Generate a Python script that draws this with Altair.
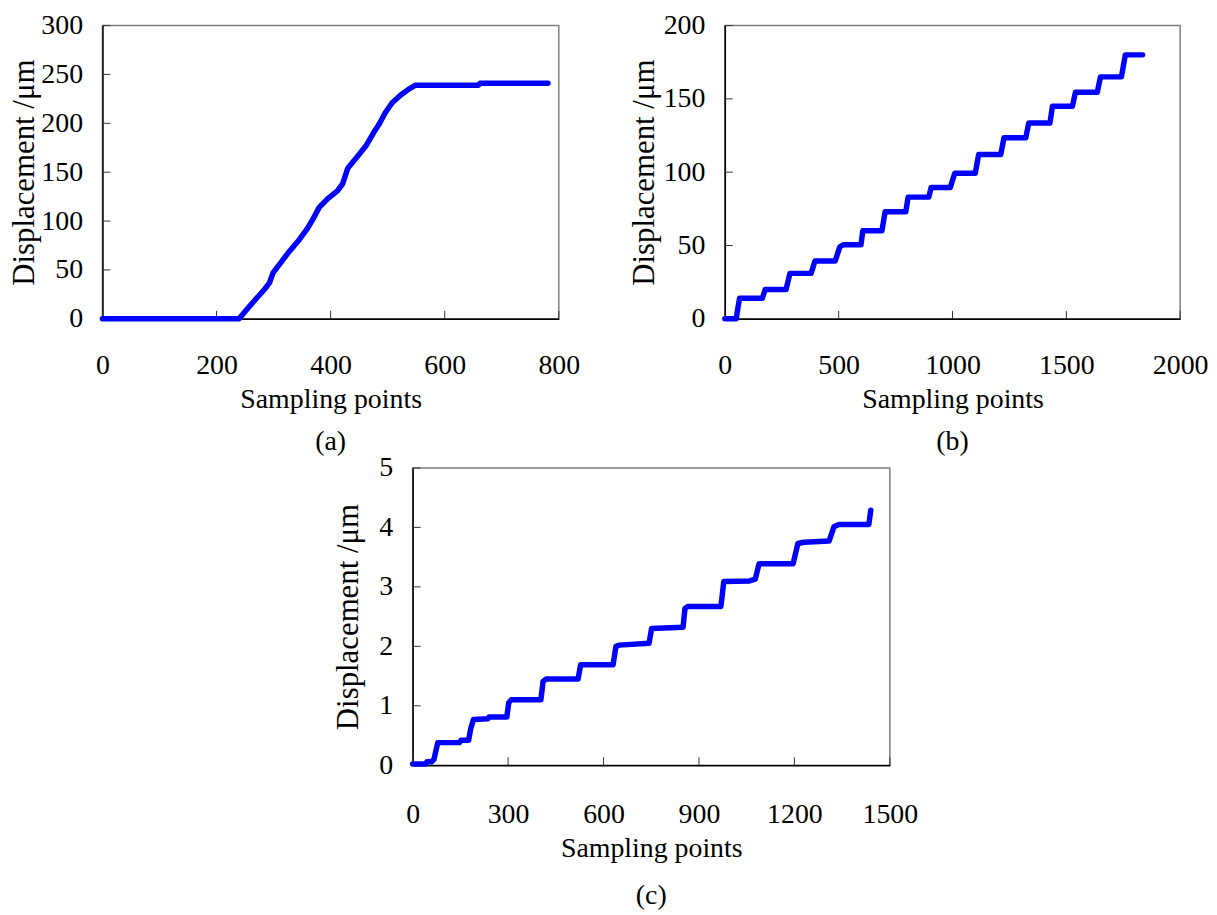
import altair as alt
import pandas as pd

FONT = "Liberation Serif"
BLUE = "#0000FF"

# ---- panel (a) ----
a_x = [0, 239, 241, 253, 267, 284, 293, 299, 308, 325, 345, 360, 370, 380, 395,
       412, 421, 430, 447, 462, 476, 485, 496, 508, 523, 537, 549, 659, 662, 781]
a_y = [0, 0, 1, 9.5, 19, 30, 37, 47, 54, 67, 81, 93, 103, 114, 123,
       131, 138, 154, 166, 177, 191, 199, 211, 221, 229, 235, 239, 239, 241, 241]
a_xticks = [0, 200, 400, 600, 800]
a_yticks = [0, 50, 100, 150, 200, 250, 300]

# ---- panel (b) ----
b_x = [0, 50, 58, 65, 165, 177, 269, 286, 379, 396, 485, 505, 520, 598, 606, 690,
       704, 795, 805, 896, 906, 990, 1010, 1100, 1115, 1212, 1226, 1322, 1335, 1428,
       1439, 1527, 1540, 1636, 1650, 1742, 1759, 1835]
b_y = [0, 0, 8, 14, 14, 20, 20, 31, 31, 39.5, 39.5, 49, 50.5, 50.5, 60, 60,
       73, 73, 83, 83, 89.5, 89.5, 99.3, 99.3, 112, 112, 123.5, 123.5, 133.5, 133.5,
       145, 145, 154.5, 154.5, 165, 165, 180, 180]
b_xticks = [0, 500, 1000, 1500, 2000]
b_yticks = [0, 50, 100, 150, 200]

# ---- panel (c) ----
c_x = [0, 40, 45, 60, 67, 79, 147, 152, 176, 182, 191, 236, 240, 296, 302, 310,
       403, 410, 420, 520, 528, 630, 639, 650, 743, 751, 850, 856, 866, 969, 978,
       1059, 1077, 1089, 1196, 1211, 1230, 1309, 1324, 1340, 1434, 1440]
c_y = [0.02, 0.02, 0.06, 0.06, 0.1, 0.38, 0.38, 0.42, 0.42, 0.6, 0.77, 0.78, 0.81, 0.81, 1.05, 1.1,
       1.1, 1.41, 1.45, 1.45, 1.69, 1.69, 2.0, 2.02, 2.05, 2.3, 2.32, 2.64, 2.67, 2.67, 3.09,
       3.1, 3.13, 3.39, 3.39, 3.73, 3.75, 3.77, 4.01, 4.05, 4.05, 4.29]
c_xticks = [0, 300, 600, 900, 1200, 1500]
c_yticks = [0, 1, 2, 3, 4, 5]

X_TITLE = "Sampling points"
Y_TITLE = "Displacement /μm"


def panel(xs, ys, xticks, yticks, w, h, label, y_title_pad, x_label_pad, label_offset):
    df = pd.DataFrame({"x": xs, "y": ys})
    xscale = alt.Scale(domain=[xticks[0], xticks[-1]], nice=False, zero=False)
    yscale = alt.Scale(domain=[yticks[0], yticks[-1]], nice=False, zero=False)
    common = dict(grid=False, ticks=False, tickSize=0, domainColor="black", domainWidth=1.5,
                  labelFont=FONT, labelFontSize=28, labelColor="black", labelFlush=False,
                  labelOverlap=False, titleFont=FONT, titleFontWeight="normal",
                  titleColor="black", format="d")
    xaxis = alt.Axis(values=xticks, title=X_TITLE, titleFontSize=28,
                     labelPadding=x_label_pad, titlePadding=6, **common)
    yaxis = alt.Axis(values=yticks, title=Y_TITLE, titleFontSize=31,
                     labelPadding=20, titlePadding=y_title_pad, **common)
    line = alt.Chart(df).mark_line(color=BLUE, strokeWidth=5.5, strokeCap="round",
                                   strokeJoin="round").encode(
        x=alt.X("x:Q", scale=xscale, axis=xaxis),
        y=alt.Y("y:Q", scale=yscale, axis=yaxis),
        order=alt.Order("x:Q"),
    )
    xt = alt.Chart(pd.DataFrame({"t": xticks})).mark_rule(color="#333333", strokeWidth=1).encode(
        x=alt.X("t:Q", scale=xscale, axis=xaxis),
        y=alt.value(h), y2=alt.value(h - 8))
    yt = alt.Chart(pd.DataFrame({"t": yticks})).mark_rule(color="#333333", strokeWidth=1).encode(
        y=alt.Y("t:Q", scale=yscale, axis=yaxis),
        x=alt.value(0), x2=alt.value(8))
    return alt.layer(xt, yt, line).properties(
        width=w, height=h,
        title=alt.TitleParams(text=label, orient="bottom", frame="group", anchor="middle",
                              offset=label_offset, font=FONT, fontSize=28, fontWeight="normal",
                              color="black"))


pa = panel(a_x, a_y, a_xticks, a_yticks, 459, 295, "(a)", 0, 33, 15)
pb = panel(b_x, b_y, b_xticks, b_yticks, 458, 295, "(b)", 3, 33, 15)
pc = panel(c_x, c_y, c_xticks, c_yticks, 480, 299, "(c)", 14, 36, 20)

spacer = alt.Chart(pd.DataFrame({"v": [0]})).mark_point(opacity=0, size=1).encode(
    x=alt.value(10), y=alt.value(5)
).properties(width=231, height=10, view=alt.ViewBackground(stroke=None))

top = alt.hconcat(pa, pb, spacing=47)
bottom = alt.hconcat(spacer, pc, spacing=0)

chart = alt.vconcat(top, bottom, spacing=-4).properties(
    padding={"left": 0, "top": 0, "right": 0, "bottom": 0}
).configure_view(stroke="#808080", strokeWidth=1.5).configure_concat(spacing=0)

chart.save("out.html", embed_options={"renderer": "svg", "actions": False})
